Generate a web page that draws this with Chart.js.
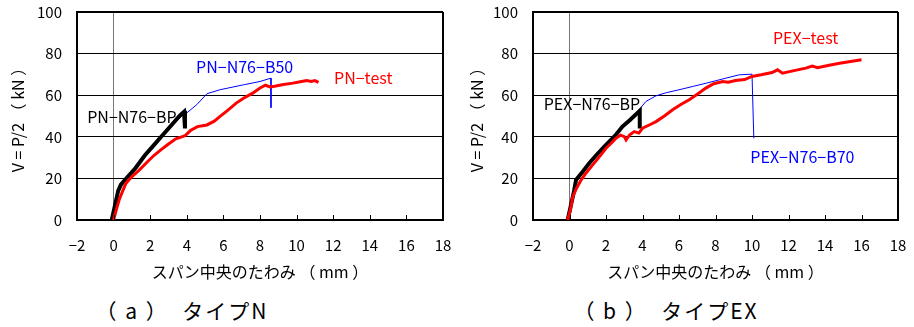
<!DOCTYPE html>
<html>
<head>
<meta charset="utf-8">
<script src="https://cdn.jsdelivr.net/npm/chart.js@4"></script>
<style>
body { margin: 0; background: #fff; width: 914px; height: 327px; position: relative; overflow: hidden; }
.box { position: absolute; top: 0; height: 290px; }
.cap { position: absolute; top: 295px; font: 21px "Noto Sans CJK JP", sans-serif; color: #000; text-align: center; white-space: pre; letter-spacing: 2px; }
</style>
</head>
<body>
<div class="box" style="left:0;width:460px"><canvas id="chartN" width="460" height="290"></canvas></div>
<div class="box" style="left:460px;width:454px"><canvas id="chartEX" width="454" height="290"></canvas></div>
<div class="cap" style="left:62px;width:240px">（ a ）  タイプN</div>
<div class="cap" style="left:546px;width:240px">（ b ）  タイプEX</div>
<script>
// axis ticks
const xTicks = [-2, 0, 2, 4, 6, 8, 10, 12, 14, 16, 18]
const yTicks = [0, 20, 40, 60, 80, 100]

// (a) type N
const pnBpX = [-0.1, 0.1, 0.25, 0.4, 0.7, 1.2, 1.7, 2.2, 2.6, 3.0, 3.3, 3.6, 3.85, 3.9, 3.9]
const pnBpY = [0, 8, 14, 17, 20, 25, 31, 36, 40, 44, 47, 50, 52, 52.5, 44]
const pnB50X = [-0.1, 0.25, 0.7, 1.7, 2.6, 3.3, 3.85, 4.0, 4.55, 5.1, 5.8, 7.1, 8.0, 8.6, 8.6]
const pnB50Y = [0, 14, 20, 31, 40, 46.5, 51, 51.5, 55.5, 60.7, 62.6, 65, 66.6, 68.2, 54]
const pnTestX = [0, 0.15, 0.3, 0.5, 0.67, 1.0, 1.4, 1.85, 2.2, 2.58, 3.0, 3.4, 3.76, 3.9, 4.2, 4.58, 5.1, 5.5, 5.8, 6.2, 6.7, 7.1, 7.6, 8.0, 8.3, 8.55, 8.8, 9.2, 9.8, 10.2, 10.55, 10.8, 11.0, 11.2]
const pnTestY = [0, 5, 9.6, 14, 17.6, 20.9, 24, 28, 31, 33.7, 36.5, 39, 40.1, 40.5, 43, 44.9, 45.7, 47.5, 49.7, 52.5, 56.2, 58.5, 61, 63.5, 64.8, 64, 64.3, 65, 65.8, 66.5, 67.1, 66.6, 67, 66.2]

// (b) type EX
const pexBpX = [-0.1, 0.1, 0.25, 0.36, 0.7, 1.08, 1.5, 2.0, 2.5, 2.9, 3.3, 3.8, 3.85, 3.85]
const pexBpY = [0, 8, 14, 19.3, 23, 27.3, 31.5, 36.1, 40.5, 44.9, 48, 52.1, 52.5, 44]
const pexB70X = [-0.1, 0.25, 0.36, 1.08, 2.0, 2.9, 3.5, 3.8, 4.19, 4.74, 5.3, 6.0, 6.8, 7.5, 8.57, 9.3, 10.0, 10.1]
const pexB70Y = [0, 14, 19, 27, 36, 44.5, 49.5, 52.9, 57, 59.7, 61.2, 62.6, 64.3, 65.8, 68.2, 69.8, 70.1, 39.3]
const pexTestX = [-0.1, 0.05, 0.18, 0.4, 0.64, 0.9, 1.27, 1.6, 2.0, 2.3, 2.55, 2.8, 3.0, 3.1, 3.3, 3.55, 3.8, 4.0, 4.4, 4.74, 5.2, 5.65, 6.1, 6.56, 7.0, 7.47, 7.9, 8.4, 8.7, 9.1, 9.6, 10.0, 10.5, 11.1, 11.4, 11.67, 12.3, 12.95, 13.3, 13.6, 13.9, 14.3, 14.8, 15.4, 16.0]
const pexTestY = [0, 5, 11.2, 15.5, 19.3, 22.5, 26.5, 30, 34.5, 37, 39.3, 40.8, 40.1, 38.5, 41, 42.5, 41.8, 44.1, 45.8, 47.3, 50, 53, 55.5, 57.8, 60.5, 63.4, 65.5, 66.6, 66.2, 67.1, 67.5, 69, 69.8, 70.9, 72.2, 70.6, 71.8, 73, 74, 73.2, 73.8, 74.5, 75.4, 76.2, 77]

const FONT = '"Noto Sans CJK JP", sans-serif'

function pts(xs, ys) {
  return xs.map((x, i) => ({ x: x, y: ys[i] }))
}

function line(xs, ys, color, width) {
  return { data: pts(xs, ys), borderColor: color, borderWidth: width, showLine: true, pointRadius: 0, tension: 0, fill: false }
}

// series names written inside the plot
const curveLabels = {
  afterDatasetsDraw(chart) {
    const c = chart.ctx
    c.save()
    c.font = '16px ' + FONT
    c.textAlign = 'center'
    c.textBaseline = 'middle'
    chart.options.curveText.forEach(t => {
      c.fillStyle = t.color
      c.fillText(t.text, chart.scales.x.getPixelForValue(t.x), chart.scales.y.getPixelForValue(t.y))
    })
    c.restore()
  }
}

// small inward tick marks on the bottom axis
const innerTicks = {
  afterDraw(chart) {
    const c = chart.ctx, xs = chart.scales.x, b = chart.chartArea.bottom
    c.save()
    c.strokeStyle = '#000'
    c.lineWidth = 1
    xs.ticks.forEach(t => {
      const p = Math.round(xs.getPixelForValue(t.value)) + 0.5
      c.beginPath()
      c.moveTo(p, b)
      c.lineTo(p, b - 5)
      c.stroke()
    })
    c.restore()
  }
}

function noPad(s) {
  s.paddingTop = 0
  s.paddingBottom = 0
  s.paddingLeft = 0
  s.paddingRight = 0
}

function makeChart(id, sets, texts, yWidth, yTitlePad, rightPad) {
  return new Chart(document.getElementById(id), {
    type: 'scatter',
    data: { datasets: sets },
    plugins: [curveLabels, innerTicks],
    options: {
      responsive: false,
      animation: false,
      curveText: texts,
      layout: { padding: { top: 12, right: rightPad, left: 0, bottom: 0 } },
      plugins: { legend: { display: false }, tooltip: { enabled: false } },
      scales: {
        x: {
          type: 'linear', min: xTicks[0], max: xTicks[xTicks.length - 1],
          afterBuildTicks: s => { s.ticks = xTicks.map(v => ({ value: v })) },
          afterFit: s => { s.height = 70; noPad(s) },
          ticks: { color: '#000', font: { family: FONT, size: 15 }, padding: 16, maxRotation: 0,
            callback: v => String(v).replace('-', '−') },
          grid: {
            drawTicks: false,
            color: ctx => ctx.tick.value === 0 ? '#777' : (ctx.tick.value === 18 ? '#000' : 'rgba(0,0,0,0)'),
            lineWidth: ctx => ctx.tick.value === 18 ? 2 : 1
          },
          border: { display: true, color: '#000', width: 2 },
          title: { display: true, text: 'スパン中央のたわみ （ mm ）', color: '#000', font: { family: FONT, size: 16 }, padding: { top: 4, bottom: 8 } }
        },
        y: {
          min: yTicks[0], max: yTicks[yTicks.length - 1],
          afterBuildTicks: s => { s.ticks = yTicks.map(v => ({ value: v })) },
          afterFit: s => { s.width = yWidth; noPad(s) },
          ticks: { color: '#000', font: { family: FONT, size: 15 }, padding: 15 },
          grid: {
            drawTicks: false, color: '#000',
            lineWidth: ctx => ctx.tick.value === 100 ? 2 : 1
          },
          border: { display: true, color: '#000', width: 2 },
          title: { display: true, text: 'V = P/2 （ kN ）', color: '#000', font: { family: FONT, size: 16 }, padding: { top: yTitlePad, bottom: 4 } }
        }
      }
    }
  })
}

makeChart('chartN', [
  line(pnTestX, pnTestY, '#ff0000', 3),
  line(pnBpX, pnBpY, '#000000', 4),
  line(pnB50X, pnB50Y, '#0000ff', 1)
], [
  { text: 'PN−N76−B50', x: 7.16, y: 73.8, color: '#0000ff' },
  { text: 'PN−test', x: 13.64, y: 68.5, color: '#ff0000' },
  { text: 'PN−N76−BP', x: 1.0, y: 49.7, color: '#000000' }
], 77, 8, 17)

makeChart('chartEX', [
  line(pexTestX, pexTestY, '#ff0000', 3),
  line(pexBpX, pexBpY, '#000000', 4),
  line(pexB70X, pexB70Y, '#0000ff', 1)
], [
  { text: 'PEX−test', x: 12.94, y: 87.5, color: '#ff0000' },
  { text: 'PEX−N76−B70', x: 12.76, y: 30.5, color: '#0000ff' },
  { text: 'PEX−N76−BP', x: 1.23, y: 55.7, color: '#000000' }
], 73, 7, 16)
</script>
</body>
</html>
